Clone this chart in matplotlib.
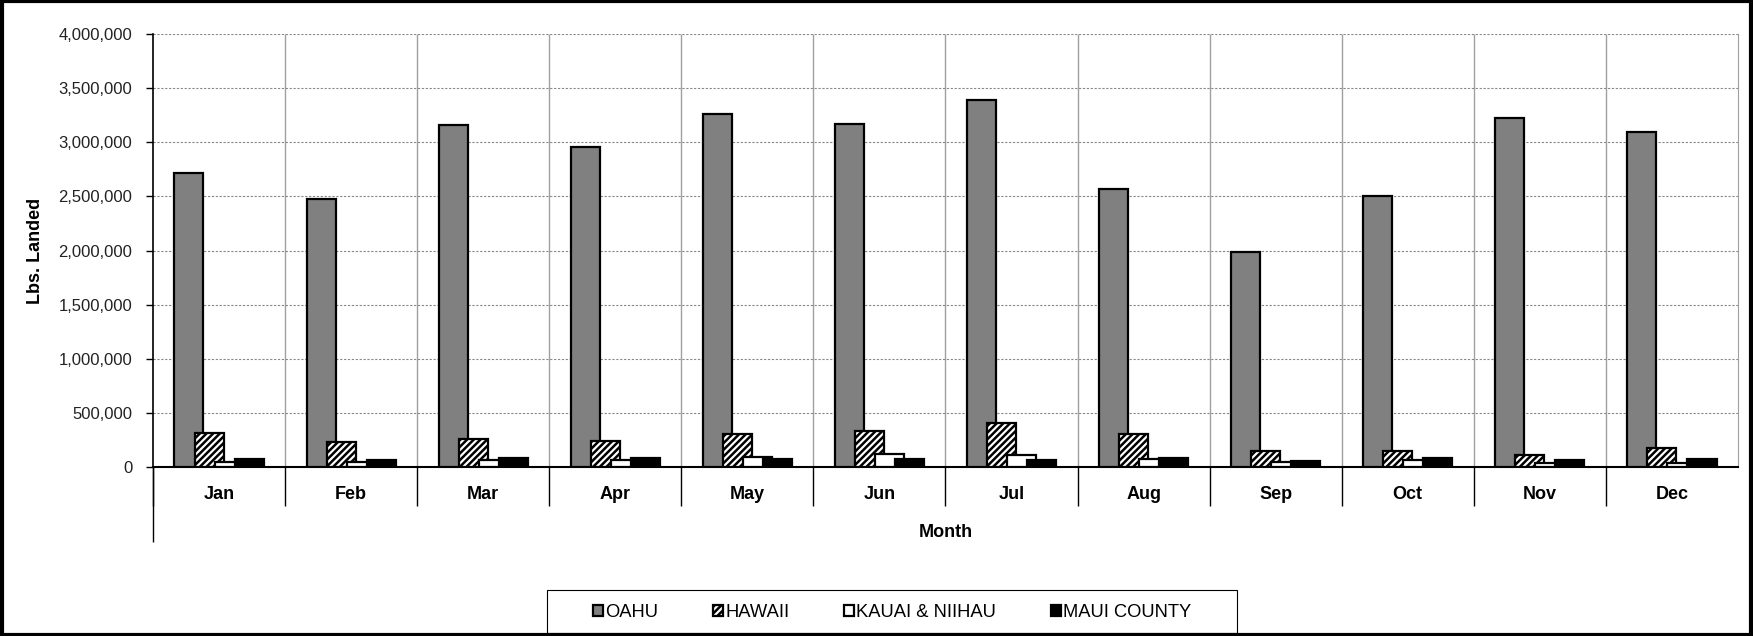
#!/usr/bin/env python3
# Monthly pounds landed by island group, clustered bar chart
import numpy as np
from matplotlib import pyplot as plt
from matplotlib.patches import Rectangle
from matplotlib.ticker import FuncFormatter
from matplotlib.transforms import blended_transform_factory

# data
months = ['Jan', 'Feb', 'Mar', 'Apr', 'May', 'Jun',
          'Jul', 'Aug', 'Sep', 'Oct', 'Nov', 'Dec']
oahu = [2713000, 2476000, 3162000, 2956000, 3261000, 3166000,
        3387000, 2568000, 1983000, 2506000, 3224000, 3092000]
hawaii = [311000, 228000, 259000, 243000, 308000, 333000,
          404000, 308000, 148000, 148000, 111000, 173000]
kauai = [46000, 43000, 62000, 65000, 90000, 122000,
         114000, 74000, 43000, 65000, 40000, 40000]
maui = [70000, 67000, 86000, 80000, 74000, 77000,
        67000, 86000, 58000, 80000, 65000, 70000]

series = [
    ('OAHU', oahu, dict(color='#808080')),
    ('HAWAII', hawaii, dict(color='white', hatch='/////')),
    ('KAUAI & NIIHAU', kauai, dict(color='white')),
    ('MAUI COUNTY', maui, dict(color='black')),
]

plt.rcParams['font.family'] = ['Liberation Sans', 'DejaVu Sans']
plt.rcParams['hatch.linewidth'] = 1.8
plt.rcParams['hatch.color'] = 'black'

fig = plt.figure(figsize=(17.53, 6.36), dpi=100)
ax = fig.add_axes([0.0873, 0.2657, 0.9041, 0.6808])

x = np.arange(len(months))
step = 0.152
width = 0.22
for i, (name, vals, style) in enumerate(series):
    ax.bar(x + (i - 1.5) * step, vals, width, label=name,
           edgecolor='black', linewidth=1.6, zorder=3 + i, **style)

ax.set_xlim(-0.5, len(months) - 0.5)
ax.set_ylim(0, 4000000)
ax.set_yticks(np.arange(0, 4000001, 500000))
ax.yaxis.set_major_formatter(FuncFormatter(lambda v, p: f'{int(v):,}'))
ax.tick_params(axis='y', length=5, width=1, pad=10, labelsize=12,
               colors='black', labelcolor='#222222')

# category labels under the axis
ax.set_xticks(x, months, fontsize=13, fontweight='bold')
ax.tick_params(axis='x', length=0, pad=14)

# grid: dotted horizontal, solid gray vertical at the category boundaries
ax.grid(axis='y', color='#888888', linestyle=(0, (2, 1.5)), linewidth=0.8,
        zorder=0)
ax.vlines(x[:-1] + 0.5, 0, 4000000, color='#a0a0a0', linewidth=1, zorder=1)

ax.spines['top'].set_visible(False)
ax.spines['right'].set_color('#a0a0a0')
ax.spines['left'].set_linewidth(1.2)
ax.spines['bottom'].set_linewidth(1.5)

# separator marks below the axis
trans = blended_transform_factory(ax.transData, ax.transAxes)
ax.vlines(np.append(-0.5, x[:-1] + 0.5), -0.09, 0, transform=trans,
          color='black', linewidth=1, clip_on=False)
ax.vlines(-0.5, -0.174, 0, transform=trans, color='black', linewidth=1,
          clip_on=False)

ax.set_xlabel('Month', fontsize=13, fontweight='bold', labelpad=15)
ax.set_ylabel('Lbs. Landed', fontsize=13, fontweight='bold', labelpad=10)

leg = fig.legend(loc='center', bbox_to_anchor=(0.509, 0.037), ncol=4,
                 fontsize=13.2, frameon=False,
                 handlelength=0.55, handleheight=0.55, handletextpad=0.1,
                 columnspacing=3.0)

# legend box
fig.patches.append(Rectangle((547 / 1753, 3 / 636), 690 / 1753, 43 / 636,
                             transform=fig.transFigure, fill=False,
                             edgecolor='black', linewidth=0.8))

# outer chart border
fig.patches.append(Rectangle((0.001, 0.001), 0.998, 0.997,
                             transform=fig.transFigure, fill=False,
                             edgecolor='black', linewidth=3))

fig.savefig('out.png', dpi=100)
